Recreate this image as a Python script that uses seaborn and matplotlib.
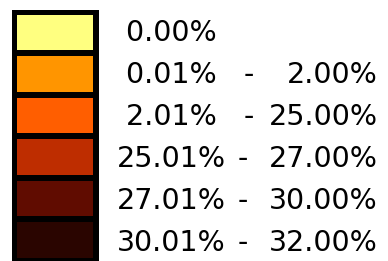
import numpy as np
import matplotlib
matplotlib.use("Agg")
import matplotlib.pyplot as plt
from matplotlib.colors import ListedColormap
import seaborn as sns

# ---- data ----
classes = [0, 1, 2, 3, 4, 5]
low_labels = [" 0.00%", " 0.01%", " 2.01%", "25.01%", "27.01%", "30.01%"]
high_labels = ["", "2.00%", "25.00%", "27.00%", "30.00%", "32.00%"]
colors = ["#FFFF80", "#FF9500", "#FF5E00", "#BE2D00", "#600C00", "#2A0500"]

W, H = 388, 261
fig = plt.figure(figsize=(W / 100, H / 100), dpi=100)
fig.patch.set_facecolor("white")

# swatch column (pixel box: x 13.5..95.5, y 12..260.5)
ax = fig.add_axes([13.5 / W, 1 - 260.5 / H, 82 / W, 248.5 / H])
data = np.array(classes).reshape(-1, 1)
sns.heatmap(data, ax=ax, cmap=ListedColormap(colors), vmin=-0.5, vmax=5.5,
            cbar=False, linewidths=2.9, linecolor="black",
            xticklabels=False, yticklabels=False)
for s in ax.spines.values():
    s.set_visible(True)
    s.set_color("black")
    s.set_linewidth(3.6)

# text overlay in pixel coordinates
tx = fig.add_axes([0, 0, 1, 1])
tx.set_xlim(0, W)
tx.set_ylim(H, 0)
tx.axis("off")
fs = 20.5
cap = 0.729 * fs * 100 / 72
font = dict(fontsize=fs, family="DejaVu Sans", color="black", va="baseline")
for i in range(len(classes)):
    y = 31 + 42 * i + cap / 2
    tx.text(117, y, low_labels[i], ha="left", **font)
    if high_labels[i]:
        tx.text(378, y, high_labels[i], ha="right", **font)
        dash_x = 243 if low_labels[i][0] != " " else 249
        tx.text(dash_x, y, "-", ha="center", **font)

fig.savefig("out.png", dpi=100, facecolor="white")
